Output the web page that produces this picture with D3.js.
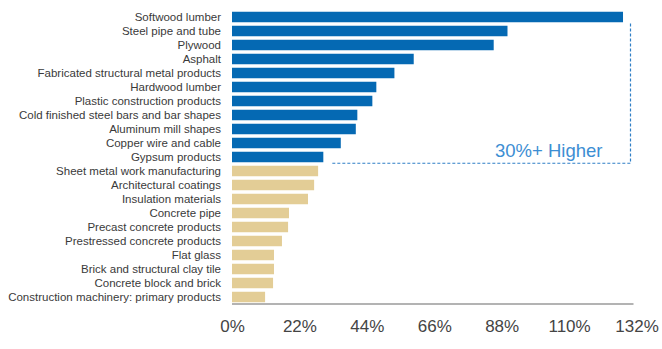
<!DOCTYPE html>
<html>
<head>
<meta charset="utf-8">
<script src="https://cdn.jsdelivr.net/npm/d3@7"></script>
<style>
  body { margin: 0; background: #fff; }
  svg { display: block; font-family: "Liberation Sans", Arial, sans-serif; }
</style>
</head>
<body>
<svg></svg>
<script>
var w = 662,
    h = 349;

// product categories, top to bottom
var categories = [
  "Softwood lumber", "Steel pipe and tube", "Plywood", "Asphalt",
  "Fabricated structural metal products", "Hardwood lumber",
  "Plastic construction products", "Cold finished steel bars and bar shapes",
  "Aluminum mill shapes", "Copper wire and cable", "Gypsum products",
  "Sheet metal work manufacturing", "Architectural coatings",
  "Insulation materials", "Concrete pipe", "Precast concrete products",
  "Prestressed concrete products", "Flat glass",
  "Brick and structural clay tile", "Concrete block and brick",
  "Construction machinery: primary products"
];
// price increase, %
var values = [127.6, 89.9, 85.4, 59.3, 53.0, 47.1, 45.8, 40.9, 40.4, 35.5, 29.8,
              28.1, 26.8, 24.8, 18.6, 18.3, 16.3, 13.7, 13.7, 13.4, 10.8];
var tickValues = [0, 22, 44, 66, 88, 110, 132];
var threshold = 29; // "30%+ Higher" group

var data = categories.map(function(c, i) { return { name: c, value: values[i] }; });

var svg = d3.select("svg").attr("width", w).attr("height", h);

var x = d3.scaleLinear().domain([0, 132]).range([232, 636.5]);
var y = d3.scaleBand()
  .domain(categories)
  .range([10, 304])
  .paddingInner(0.25)
  .paddingOuter(0.125);

// bars
svg.append("g").selectAll("rect")
  .data(data)
  .enter()
  .append("rect")
  .attr("x", x(0))
  .attr("y", function(d) { return y(d.name); })
  .attr("width", function(d) { return x(d.value) - x(0); })
  .attr("height", y.bandwidth())
  .attr("fill", function(d) { return d.value >= threshold ? "#0569b3" : "#e3cd96"; });

// category labels
svg.append("g").selectAll("text")
  .data(data)
  .enter()
  .append("text")
  .attr("x", 221)
  .attr("y", function(d) { return y(d.name) + y.bandwidth() / 2; })
  .attr("dy", "0.35em")
  .attr("text-anchor", "end")
  .attr("fill", "#3a3a3a")
  .style("font-size", "11.5px")
  .text(function(d) { return d.name; });

// baseline
svg.append("line")
  .attr("x1", x(0)).attr("x2", x(132) - 3)
  .attr("y1", 304).attr("y2", 304)
  .attr("stroke", "#9a9a9a")
  .attr("stroke-width", 1.5);

// x axis labels
var xAxis = d3.axisBottom(x)
  .tickValues(tickValues)
  .tickSize(0)
  .tickPadding(16)
  .tickFormat(function(d) { return d + "%"; });

var gx = svg.append("g")
  .attr("transform", "translate(0,304)")
  .call(xAxis);
gx.select(".domain").remove();
gx.selectAll("text")
  .attr("fill", "#444")
  .style("font-size", "17px")
  .style("font-family", "\"Liberation Sans\", Arial, sans-serif");

// bracket around the 30%+ group
var high = data.filter(function(d) { return d.value >= threshold; });
var last = high[high.length - 1];
var bx = x(132) - 6,
    by = y(last.name) + y.bandwidth() + 1,
    topY = y(high[0].name) + y.bandwidth();

svg.append("path")
  .attr("d", "M" + (x(last.value) + 9) + "," + by + "H" + bx + "V" + topY)
  .attr("fill", "none")
  .attr("stroke", "#2f7fc6")
  .attr("stroke-width", 1.2)
  .attr("stroke-dasharray", "3,2");

svg.append("text")
  .attr("x", bx - 28)
  .attr("y", by - 6)
  .attr("text-anchor", "end")
  .attr("fill", "#3d8ed3")
  .style("font-size", "18.5px")
  .text("30%+ Higher");
</script>
</body>
</html>
